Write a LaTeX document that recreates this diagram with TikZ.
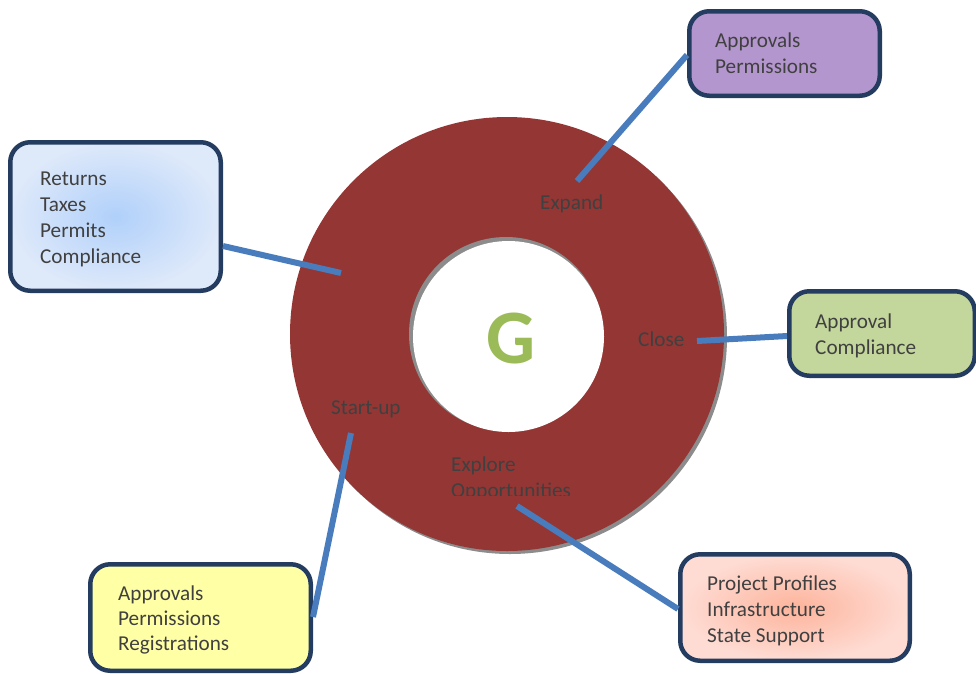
\documentclass[tikz,border=0pt]{standalone}
\usepackage{fontspec}
\setmainfont{Carlito}
\definecolor{ringred}{RGB}{148,54,52}
\definecolor{shadowgray}{RGB}{140,140,140}
\definecolor{boxline}{RGB}{35,60,95}
\definecolor{linkblue}{RGB}{72,124,188}
\definecolor{textgray}{RGB}{64,64,64}
\definecolor{purplefill}{RGB}{180,150,206}
\definecolor{greenfill}{RGB}{195,214,155}
\definecolor{yellowfill}{RGB}{255,255,166}
\definecolor{blueinner}{RGB}{176,208,250}
\definecolor{blueouter}{RGB}{222,233,250}
\definecolor{pinkinner}{RGB}{253,180,156}
\definecolor{pinkouter}{RGB}{254,220,212}
\definecolor{ggreen}{RGB}{155,187,89}
\begin{document}
\begin{tikzpicture}[x=1pt,y=-1pt,
  infobox/.style={draw=boxline, line width=4.5pt, rounded corners=20pt, rectangle, inner sep=0pt},
  conn/.style={draw=linkblue, line width=6pt},
  txt/.style={anchor=base west, text=textgray, font=\fontsize{21.2}{26}\selectfont, inner sep=0pt},
]
\useasboundingbox[fill=white] (0,0) rectangle (976,673);

% ring
\fill[shadowgray] (510,337) circle (217);
\fill[ringred] (507,334) circle (217);
\fill[shadowgray] (506,334) circle (97);
\fill[white] (508.5,336.5) circle (95.5);

\node[anchor=base, text=ggreen, font=\fontsize{77}{77}\selectfont\bfseries, inner sep=0pt] (g) at (511,363) {G};

% ring labels
\node[txt] (expand) at (540,209) {Expand};
\node[txt] (close) at (638,346) {Close};
\node[txt] (startup) at (331,414) {Start-up};
\node[txt] (explore) at (451,471) {Explore};
\begin{scope}
\clip (440,476) rectangle (640,495.5);
\node[txt] (opport) at (451,497) {Opportunities};
\end{scope}

% connector ends on the ring
\coordinate (expandEnd) at (577,181);
\coordinate (closeEnd) at (697,341);
\coordinate (startEnd) at (351,433);
\coordinate (exploreEnd) at (517,506);
\coordinate (retEnd) at (341,273);

% boxes
\node[infobox, shading=radial, inner color=blueinner, outer color=blueouter,
      minimum width=210.5pt, minimum height=148.5pt] (ret) at (115.5,216.5) {};
\node[infobox, fill=purplefill, minimum width=190.5pt, minimum height=84.5pt] (perm) at (784.5,53.5) {};
\node[infobox, fill=greenfill, minimum width=185.5pt, minimum height=84.5pt] (appr) at (882,333.5) {};
\node[infobox, shading=radial, inner color=pinkinner, outer color=pinkouter,
      minimum width=229.5pt, minimum height=106.5pt] (proj) at (795,607.5) {};
\node[infobox, fill=yellowfill, minimum width=220.5pt, minimum height=106.5pt] (reg) at (200.5,617.5) {};

% connectors
\draw[conn] (ret.east |- 0,246) -- (retEnd);
\draw[conn] (perm.west |- 0,55) -- (expandEnd);
\draw[conn] (appr.west |- 0,336) -- (closeEnd);
\draw[conn] (proj.west |- 0,609) -- (exploreEnd);
\draw[conn] (reg.east |- 0,617) -- (startEnd);

% box texts
\node[txt] (t1) at (40,185) {Returns};
\node[txt] (t2) at (40,211) {Taxes};
\node[txt] (t3) at (40,237) {Permits};
\node[txt] (t4) at (40,263) {Compliance};

\node[txt] (p1) at (715,47) {Approvals};
\node[txt] (p2) at (715,73) {Permissions};

\node[txt] (a1) at (815,328) {Approval};
\node[txt] (a2) at (815,354) {Compliance};

\node[txt] (q1) at (707,590) {Project Profiles};
\node[txt] (q2) at (707,616) {Infrastructure};
\node[txt] (q3) at (707,642) {State Support};

\node[txt] (y1) at (118,600) {Approvals};
\node[txt] (y2) at (118,625) {Permissions};
\node[txt] (y3) at (118,650) {Registrations};
\end{tikzpicture}
\end{document}
